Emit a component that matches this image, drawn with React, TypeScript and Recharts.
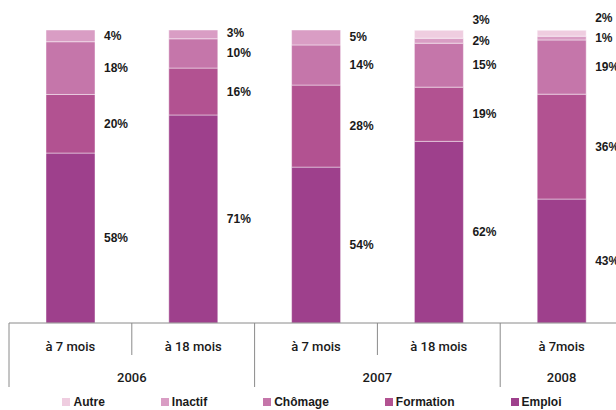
import { Bar, BarChart, LabelList, Legend, XAxis, YAxis } from "recharts";

const categories = ["à 7 mois", "à 18 mois", "à 7 mois", "à 18 mois", "à 7mois"];
const years = ["2006", "2006", "2007", "2007", "2008"];

// segment sizes as measured on the picture (shares of 100)
const emploi = [58, 71, 53.2, 62, 42.3];
const formation = [20, 16, 28, 18.5, 35.8];
const chomage = [18, 10, 13.7, 15, 18.5];
const inactif = [4, 3, 5.1, 1.7, 1.3];
const autre = [0, 0, 0, 2.7, 2];

// printed labels
const emploiLabels = ["58%", "71%", "54%", "62%", "43%"];
const formationLabels = ["20%", "16%", "28%", "19%", "36%"];
const chomageLabels = ["18%", "10%", "14%", "15%", "19%"];
const inactifLabels = ["4%", "3%", "5%", "2%", "1%"];
const autreLabels = ["", "", "", "3%", "2%"];

const FONT = "'Liberation Sans', Arial, sans-serif";
const AXIS_FONT = "Roboto, 'Liberation Sans', Arial, sans-serif";
const MIN_GAP = 7; // min distance between two labels, in percent points

const series = [
  { key: "emploi", name: "Emploi", values: emploi, labels: emploiLabels, color: "#9e408c" },
  { key: "formation", name: "Formation", values: formation, labels: formationLabels, color: "#b25291" },
  { key: "chomage", name: "Chômage", values: chomage, labels: chomageLabels, color: "#c576aa" },
  { key: "inactif", name: "Inactif", values: inactif, labels: inactifLabels, color: "#d99dc4" },
  { key: "autre", name: "Autre", values: autre, labels: autreLabels, color: "#efcde0" },
];

const data = categories.map((cat, i) => {
  const row: Record<string, string | number> = { cat, year: years[i], idx: i };
  series.forEach((s) => (row[s.key] = s.values[i]));
  return row;
});

// start of each segment, and where its label goes (bottom-up, pushed up on collision)
const starts: number[][] = series.map(() => []);
const labelPos: number[][] = series.map(() => []);
categories.forEach((_, i) => {
  let cum = 0;
  let last = -Infinity;
  series.forEach((s, k) => {
    const v = s.values[i];
    starts[k][i] = cum;
    let pos = cum + v / 2;
    if (s.labels[i] && pos - last < MIN_GAP) pos = last + MIN_GAP;
    labelPos[k][i] = pos;
    if (s.labels[i]) last = pos;
    cum += v;
  });
});

const makeLabel = (k: number) => (props: any) => {
  const { x, y, width, height, value } = props;
  const index = Number(value);
  const text = series[k].labels[index];
  const v = series[k].values[index];
  if (!text || !v) return null;
  const bottom = Number(y) + Number(height);
  const pxPerUnit = Number(height) / v;
  const ly = bottom - (labelPos[k][index] - starts[k][index]) * pxPerUnit;
  return (
    <text
      x={Number(x) + Number(width) + 9}
      y={ly}
      dominantBaseline="central"
      textAnchor="start"
      fontFamily={FONT}
      fontSize={12}
      fontWeight="bold"
      fill="#1a1a1a"
    >
      {text}
    </text>
  );
};

const AxisTick = (props: any) => {
  const { x, y, payload, width } = props;
  const index: number = payload.index ?? props.index;
  const n = categories.length;
  const band = width ? width / n : payload.offset * 2;
  const newGroup = index === 0 || years[index] !== years[index - 1];
  let groupEnd = index;
  while (groupEnd < n - 1 && years[groupEnd + 1] === years[index]) groupEnd++;
  const left = x - band / 2;
  return (
    <g>
      <line x1={left} x2={left} y1={y} y2={y + (newGroup ? 64 : 32)} stroke="#8a8a8a" />
      {index === n - 1 && (
        <line x1={x + band / 2} x2={x + band / 2} y1={y} y2={y + 64} stroke="#8a8a8a" />
      )}
      <text
        x={x}
        y={y + 23}
        textAnchor="middle"
        dominantBaseline="central"
        fontFamily={AXIS_FONT}
        fontSize={13}
        fontWeight={500}
        fill="#1a1a1a"
      >
        {payload.value}
      </text>
      {newGroup && (
        <text
          x={x + ((groupEnd - index) * band) / 2}
          y={y + 54}
          textAnchor="middle"
          dominantBaseline="central"
          fontFamily={AXIS_FONT}
          fontSize={13}
          fontWeight={500}
          fill="#1a1a1a"
        >
          {years[index]}
        </text>
      )}
    </g>
  );
};

const LegendContent = () => (
  <div
    style={{
      display: "flex",
      justifyContent: "center",
      gap: 56,
      paddingTop: 7,
      paddingLeft: 8,
      lineHeight: "16px",
      fontFamily: FONT,
      fontSize: 12,
      fontWeight: "bold",
      color: "#1a1a1a",
    }}
  >
    {[...series].reverse().map((s) => (
      <span key={s.key} style={{ display: "flex", alignItems: "center" }}>
        <span style={{ width: 8, height: 8, background: s.color, marginRight: 3 }} />
        {s.name}
      </span>
    ))}
  </div>
);

export default function App() {
  return (
    <div style={{ position: "fixed", left: 0, top: 0, width: 616, height: 410, overflow: "hidden", background: "#fff" }}>
      <BarChart width={640} height={410} data={data} margin={{ top: 30, right: 17, left: 9, bottom: 0 }}>
        <XAxis
          dataKey="cat"
          height={64}
          tickSize={0}
          tickMargin={0}
          tickLine={false}
          axisLine={{ stroke: "#8a8a8a" }}
          tick={<AxisTick />}
          interval={0}
        />
        <YAxis hide domain={[0, 100]} />
        <Legend
          verticalAlign="bottom"
          height={23}
          wrapperStyle={{ left: 0, width: 616 }}
          content={() => <LegendContent />}
        />
        {series.map((s, k) => (
          <Bar
            key={s.key}
            dataKey={s.key}
            name={s.name}
            stackId="a"
            fill={s.color}
            stroke="rgba(255,255,255,0.45)"
            strokeWidth={1}
            barSize={49}
            isAnimationActive={false}
          >
            <LabelList dataKey="idx" content={makeLabel(k)} />
          </Bar>
        ))}
      </BarChart>
    </div>
  );
}
